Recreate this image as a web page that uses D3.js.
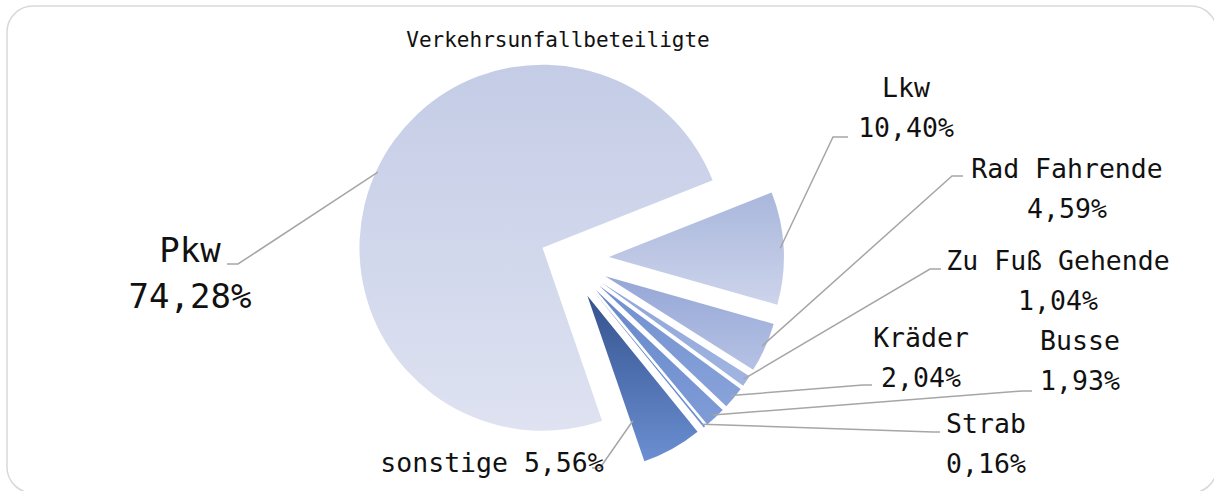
<!DOCTYPE html>
<html>
<head>
<meta charset="utf-8">
<script src="https://cdn.jsdelivr.net/npm/d3@7"></script>
<style>
  html, body { margin: 0; padding: 0; background: #fff; }
  svg { display: block; }
  text { font-family: "DejaVu Sans Mono", monospace; fill: #111; }
</style>
</head>
<body>
<svg id="chart" width="1214" height="491"></svg>
<script>
const categories = ["Lkw", "Rad Fahrende", "Zu Fuß Gehende", "Kräder", "Busse", "Strab", "sonstige", "Pkw"];
const shares = [10.40, 4.59, 1.04, 2.04, 1.93, 0.16, 5.56, 74.28];
const shareLabels = ["10,40%", "4,59%", "1,04%", "2,04%", "1,93%", "0,16%", "5,56%", "74,28%"];

const colorTop = ["#a9b7dc", "#95a7d7", "#8ea5da", "#7090d0", "#6687cb", "#5577ba", "#34528e", "#c4cce6"];
const colorBottom = ["#cdd4eb", "#b6c2e4", "#a2b5e1", "#89a3da", "#7f9cd6", "#6d8fd0", "#6b8fd2", "#dee2f1"];

const W = 1214, H = 491;
const CX = 567, CY = 259;
const START = 68.4 * Math.PI / 180;

// per slice: radius, explode distance, leader anchor (t along angle, radius frac), label centre/baseline, leader elbow + end
const radius = [175, 175, 175, 175, 175, 175, 175, 183];
const explode = [42, 42, 42, 42, 42, 42, 42, 27];
const anchor = [[0.5, 0.98], [0.5, 0.98], [0.5, 0.98], [0.5, 0.98], [0.5, 0.98], [0.5, 0.98], [0.95, 0.76], [0.5, 0.99]];
const labelPos = [
  {x: 906, y: 97, one: false},
  {x: 1067, y: 178, one: false},
  {x: 1058, y: 270, one: false},
  {x: 921, y: 347, one: false},
  {x: 1080, y: 350, one: false},
  {x: 986, y: 433, one: false},
  {x: 492, y: 472, one: true},
  {x: 190, y: 262, one: false}
];
const leader = [
  [833, 137, 848], [952, 176, 963], [930, 269, 941], [863, 385, 872],
  [1022, 391, 1032], [933, 432, 940], [600, 468, 592], [238, 264, 227]
];

const svg = d3.select("#chart");

svg.append("rect")
  .attr("x", 7).attr("y", 6)
  .attr("width", 1210).attr("height", 487)
  .attr("rx", 26).attr("ry", 26)
  .attr("fill", "#fff")
  .attr("stroke", "#d9d9d9")
  .attr("stroke-width", 1.5);

svg.append("text")
  .attr("x", 558).attr("y", 47)
  .attr("text-anchor", "middle")
  .attr("font-size", "21px")
  .text("Verkehrsunfallbeteiligte");

const defs = svg.append("defs");
categories.forEach((c, i) => {
  const g = defs.append("linearGradient")
    .attr("id", "grad" + i)
    .attr("x1", 0).attr("y1", 0).attr("x2", 0).attr("y2", 1);
  g.append("stop").attr("offset", "0%").attr("stop-color", colorTop[i]);
  g.append("stop").attr("offset", "100%").attr("stop-color", colorBottom[i]);
});

const pie = d3.pie().sort(null).value(d => d).startAngle(START).endAngle(START + 2 * Math.PI);
const arcs = pie(shares);
const arc = d3.arc().innerRadius(0).outerRadius((d, i) => radius[d.index]);

const offset = (d, i) => {
  const m = (d.startAngle + d.endAngle) / 2;
  return [CX + explode[i] * Math.sin(m), CY - explode[i] * Math.cos(m)];
};

svg.append("g")
  .selectAll("path")
  .data(arcs)
  .enter()
  .append("path")
  .attr("transform", (d, i) => `translate(${offset(d, i)})`)
  .attr("d", arc)
  .attr("fill", (d, i) => `url(#grad${i})`);

// leader lines
svg.append("g")
  .selectAll("polyline")
  .data(arcs)
  .enter()
  .append("polyline")
  .attr("points", (d, i) => {
    const o = offset(d, i);
    const a = d.startAngle + (d.endAngle - d.startAngle) * anchor[i][0];
    const r = radius[i] * anchor[i][1];
    const p = [o[0] + r * Math.sin(a), o[1] - r * Math.cos(a)];
    const l = leader[i];
    return [p, [l[0], l[1]], [l[2], l[1]]].map(q => q.join(",")).join(" ");
  })
  .attr("fill", "none")
  .attr("stroke", "#a6a6a6")
  .attr("stroke-width", 1.5);

// labels
const labels = svg.append("g")
  .selectAll("text")
  .data(categories)
  .enter()
  .append("text")
  .attr("text-anchor", "middle")
  .attr("font-size", (d, i) => d === "Pkw" ? "34px" : "26.5px")
  .attr("x", (d, i) => labelPos[i].x)
  .attr("y", (d, i) => labelPos[i].y);

labels.each(function (d, i) {
  const t = d3.select(this);
  if (labelPos[i].one) {
    t.text(`${d} ${shareLabels[i]}`);
  } else {
    t.append("tspan").attr("x", labelPos[i].x).text(d);
    t.append("tspan")
      .attr("x", labelPos[i].x)
      .attr("dy", d === "Pkw" ? 46 : 40)
      .text(shareLabels[i]);
  }
});
</script>
</body>
</html>
